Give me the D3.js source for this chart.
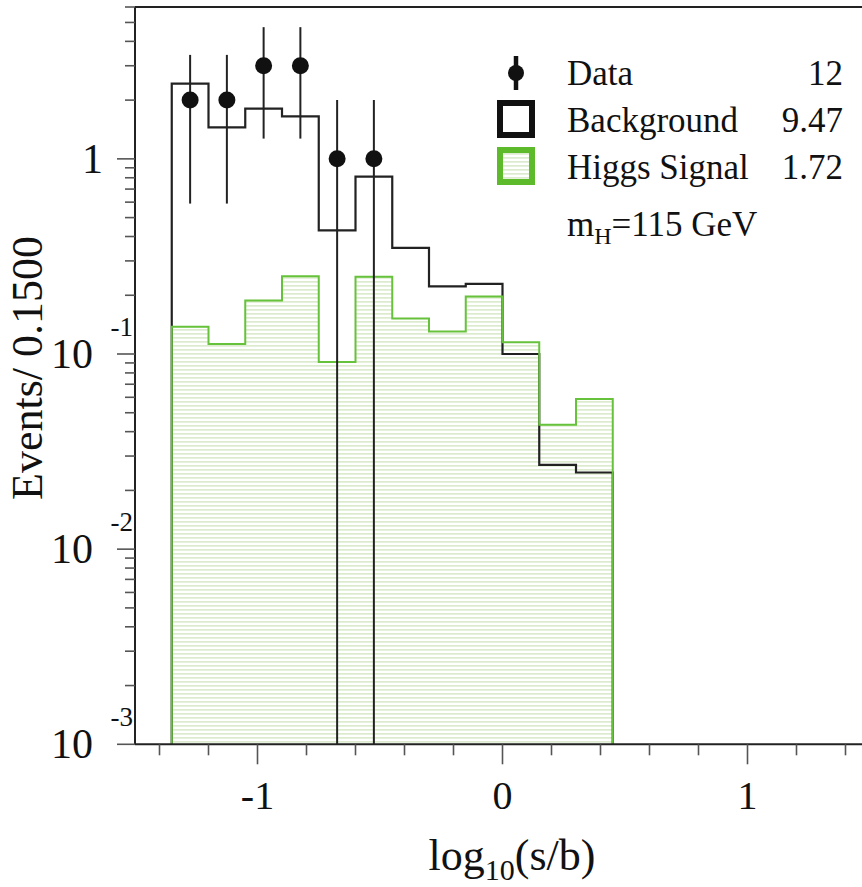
<!DOCTYPE html>
<html>
<head>
<meta charset="utf-8">
<script src="https://cdn.jsdelivr.net/npm/d3@7"></script>
<style>
  html, body { margin: 0; padding: 0; background: #fff; }
  text { font-family: "Liberation Serif", "DejaVu Serif", serif; fill: #111; }
</style>
</head>
<body>
<script>
// Histogram bins of log10(s/b), width 0.15
const binLow = [-1.35, -1.2, -1.05, -0.9, -0.75, -0.6, -0.45, -0.3, -0.15, 0, 0.15, 0.3];
const binWidth = 0.15;

// Expected background and Higgs signal (m_H = 115 GeV) per bin
const background = [2.43, 1.45, 1.81, 1.65, 0.43, 0.81, 0.35, 0.222, 0.229, 0.100, 0.027, 0.0247];
const signal = [0.138, 0.1125, 0.188, 0.25, 0.091, 0.249, 0.152, 0.1305, 0.197, 0.115, 0.0434, 0.0588];

// Observed events (first six bins) with Poisson errors
const dataCenters = [-1.275, -1.125, -0.975, -0.825, -0.675, -0.525];
const dataCounts = [2, 2, 3, 3, 1, 1];
const dataErrUp = [1.41, 1.41, 1.73, 1.73, 1, 1];
const dataErrDown = [1.41, 1.41, 1.73, 1.73, 1, 1];

// Axis labels
const xMajorTicks = [-1, 0, 1];
const xMajorLabels = ["-1", "0", "1"];
const yMajorTicks = [1e-3, 1e-2, 1e-1, 1];
const yLabelBase = ["10", "10", "10", "1"];
const yLabelExp = ["-3", "-2", "-1", ""];

// Legend
const legendLabels = ["Data", "Background", "Higgs Signal"];
const legendTotals = ["12", "9.47", "1.72"];

const W = 862, H = 887;
const plotLeft = 135, plotTop = 7, plotBottom = 744.3;
const yMin = 1e-3, yMax = 6;

const x = d3.scaleLinear().domain([-1.5, 1.5]).range([plotLeft, 870]);
const y = d3.scaleLog().domain([yMin, yMax]).range([plotBottom, plotTop]);

const svg = d3.select("body").append("svg")
  .attr("width", W).attr("height", H)
  .attr("viewBox", `0 0 ${W} ${H}`);

const defs = svg.append("defs");
const hatch = defs.append("pattern")
  .attr("id", "hatch")
  .attr("patternUnits", "userSpaceOnUse")
  .attr("width", 8).attr("height", 4);
hatch.append("rect").attr("x", 0).attr("y", 1).attr("width", 8).attr("height", 1.7)
  .attr("fill", "#dcebcd");

// step outline of a histogram, closed down to the frame floor
function stepPoints(values) {
  const pts = [[binLow[0], yMin]];
  values.forEach((v, i) => {
    pts.push([binLow[i], v]);
    pts.push([binLow[i] + binWidth, v]);
  });
  pts.push([binLow[values.length - 1] + binWidth, yMin]);
  return pts;
}
const line = d3.line().x(d => x(d[0])).y(d => y(d[1]));

// signal hatch fill
svg.append("path")
  .attr("d", line(stepPoints(signal)) + "Z")
  .attr("fill", "url(#hatch)")
  .attr("stroke", "none");

// background outline
svg.append("path")
  .attr("d", line(stepPoints(background)))
  .attr("fill", "none")
  .attr("stroke", "#222")
  .attr("stroke-width", 2.2);

// signal outline
svg.append("path")
  .attr("d", line(stepPoints(signal)))
  .attr("fill", "none")
  .attr("stroke", "#66c23a")
  .attr("stroke-width", 2);

// data points with error bars
const pts = svg.append("g");
dataCounts.forEach((n, i) => {
  const cx = x(dataCenters[i]);
  const lo = n - dataErrDown[i];
  pts.append("line")
    .attr("x1", cx).attr("x2", cx)
    .attr("y1", y(n + dataErrUp[i]))
    .attr("y2", lo > yMin ? y(lo) : plotBottom)
    .attr("stroke", "#222").attr("stroke-width", 2);
  pts.append("circle")
    .attr("cx", cx).attr("cy", y(n)).attr("r", 8.5)
    .attr("fill", "#111");
});

// frame
const frame = svg.append("g").attr("stroke", "#222").attr("stroke-width", 2).attr("fill", "none");
frame.append("line").attr("x1", plotLeft).attr("x2", W).attr("y1", plotTop).attr("y2", plotTop);
frame.append("line").attr("x1", plotLeft).attr("x2", plotLeft).attr("y1", plotTop).attr("y2", plotBottom);
frame.append("line").attr("x1", plotLeft).attr("x2", W).attr("y1", plotBottom).attr("y2", plotBottom);

// y axis ticks
const yTicks = y.ticks().filter(v => v <= yMax);
const yAxis = svg.append("g");
yTicks.forEach(v => {
  const major = yMajorTicks.some(m => Math.abs(m - v) / m < 1e-6);
  yAxis.append("line")
    .attr("x1", plotLeft - (major ? 18 : 10)).attr("x2", plotLeft)
    .attr("y1", y(v)).attr("y2", y(v))
    .attr("stroke", "#555").attr("stroke-width", 1.6);
});
yMajorTicks.forEach((v, i) => {
  if (yLabelExp[i] === "") {
    yAxis.append("text")
      .attr("x", 103).attr("y", y(v) + 14)
      .attr("text-anchor", "end")
      .attr("font-size", 42)
      .text(yLabelBase[i]);
  } else {
    yAxis.append("text")
      .attr("x", 93).attr("y", y(v) + 14)
      .attr("text-anchor", "end")
      .attr("font-size", 42)
      .text(yLabelBase[i]);
    yAxis.append("text")
      .attr("x", 133).attr("y", y(v) - 18)
      .attr("text-anchor", "end")
      .attr("font-size", 27)
      .text(yLabelExp[i]);
  }
});

// x axis ticks
const xAxis = svg.append("g");
for (let k = -7; k <= 7; k++) {
  const v = k / 5;
  const major = k % 5 === 0;
  xAxis.append("line")
    .attr("x1", x(v)).attr("x2", x(v))
    .attr("y1", plotBottom).attr("y2", plotBottom + (major ? 20 : 11))
    .attr("stroke", "#555").attr("stroke-width", 1.6);
}
xMajorTicks.forEach((v, i) => {
  xAxis.append("text")
    .attr("x", x(v)).attr("y", 809)
    .attr("text-anchor", "middle")
    .attr("font-size", 40)
    .text(xMajorLabels[i]);
});

// axis titles
const xt = svg.append("text")
  .attr("x", 512).attr("y", 870)
  .attr("text-anchor", "middle")
  .attr("font-size", 44);
xt.append("tspan").text("log");
xt.append("tspan").attr("font-size", 30).attr("dy", 10).text("10");
xt.append("tspan").attr("dy", -10).text("(s/b)");

svg.append("text")
  .attr("transform", "translate(42,368) rotate(-90)")
  .attr("text-anchor", "middle")
  .attr("font-size", 44)
  .text("Events/ 0.1500");

// legend
const lg = svg.append("g");
const rowY = [85, 132, 179];
lg.append("line")
  .attr("x1", 516).attr("x2", 516).attr("y1", 56).attr("y2", 90)
  .attr("stroke", "#111").attr("stroke-width", 4.5);
lg.append("circle").attr("cx", 516).attr("cy", 73).attr("r", 8).attr("fill", "#111");
lg.append("rect")
  .attr("x", 500).attr("y", 103).attr("width", 32).attr("height", 32)
  .attr("fill", "#fff").attr("stroke", "#111").attr("stroke-width", 6);
lg.append("rect")
  .attr("x", 500).attr("y", 150).attr("width", 32).attr("height", 32)
  .attr("fill", "url(#hatch)").attr("stroke", "#5dbb2b").attr("stroke-width", 6);
legendLabels.forEach((t, i) => {
  lg.append("text").attr("x", 567).attr("y", rowY[i]).attr("font-size", 35).text(t);
  lg.append("text").attr("x", 843).attr("y", rowY[i]).attr("font-size", 35)
    .attr("text-anchor", "end").text(legendTotals[i]);
});
const mh = lg.append("text").attr("x", 567).attr("y", 236).attr("font-size", 35);
mh.append("tspan").text("m");
mh.append("tspan").attr("font-size", 24).attr("dy", 8).text("H");
mh.append("tspan").attr("dy", -8).text("=115 GeV");
</script>
</body>
</html>
